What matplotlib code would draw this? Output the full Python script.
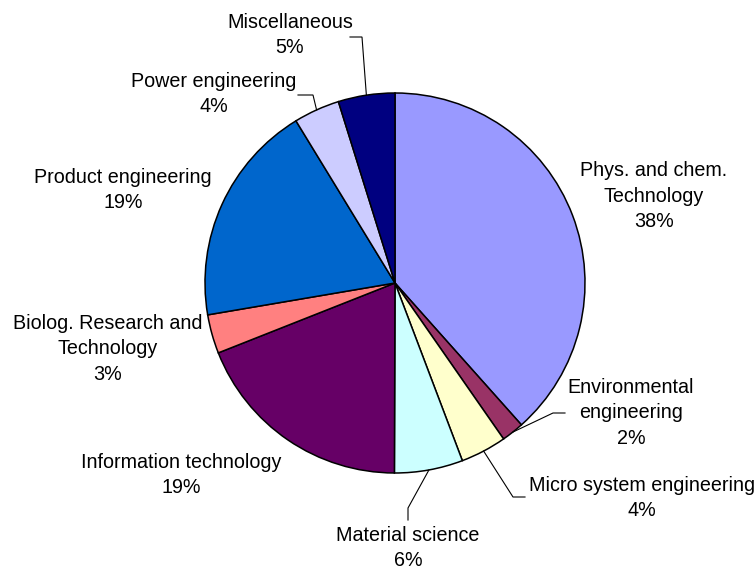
import numpy as np
import matplotlib
matplotlib.use("Agg")
import matplotlib.pyplot as plt

# ---- data ----
categories = ["Phys. and chem.\nTechnology", "Environmental\nengineering",
              "Micro system engineering", "Material science",
              "Information technology", "Biolog. Research and\nTechnology",
              "Product engineering", "Power engineering", "Miscellaneous"]
values = [38.3, 1.9, 3.9, 5.8, 18.9, 3.3, 18.9, 3.9, 4.8]
colors = ["#9999FF", "#993366", "#FFFFCC", "#CCFFFF", "#660066",
          "#FF8080", "#0066CC", "#CCCCFF", "#000080"]

# ---- layout (pixel coords, y measured from top) ----
W, H = 756, 567
cx, cy, R = 395, 283, 190
label_pos = [(654, 196), (631, 413), (642, 498), (408, 548), (181, 475),
             (108, 349), (123, 190), (214, 94), (290, 35)]
# leader lines: (start, elbow) in pixels, None = no leader
leaders = [None, ((565, 413), (553, 413)), ((525, 497), (513, 497)),
           ((408, 520), (408, 508)), None, None, None,
           ((298, 95), (313, 95)), ((350, 37), (362, 37))]

fig = plt.figure(figsize=(W / 100, H / 100), dpi=100)
ax = fig.add_axes([0, 0, 1, 1])
ax.set_xlim(0, W)
ax.set_ylim(0, H)
ax.set_aspect("equal")
ax.axis("off")

wedges, _ = ax.pie(values, colors=colors, startangle=90, counterclock=False,
                   center=(cx, H - cy), radius=R,
                   wedgeprops=dict(edgecolor="black", linewidth=1.1))
ax.set_xlim(0, W)
ax.set_ylim(0, H)

total = sum(values)
for i, (cat, v) in enumerate(zip(categories, values)):
    pct = round(v / total * 100)
    x, y = label_pos[i]
    ax.text(x, H - y, f"{cat}\n{pct}%", ha="center", va="center",
            fontsize=14.2, family=["Liberation Sans", "DejaVu Sans"],
            linespacing=1.42, color="black")
    if leaders[i] is not None:
        w = wedges[i]
        mid = np.deg2rad((w.theta1 + w.theta2) / 2)
        ex = cx + R * np.cos(mid)
        ey = (H - cy) + R * np.sin(mid)
        (sx, sy), (bx, by) = leaders[i]
        ax.plot([sx, bx, ex], [H - sy, H - by, ey], color="black", lw=0.8,
                solid_joinstyle="miter")

fig.savefig("out.png", dpi=100, facecolor="white")
